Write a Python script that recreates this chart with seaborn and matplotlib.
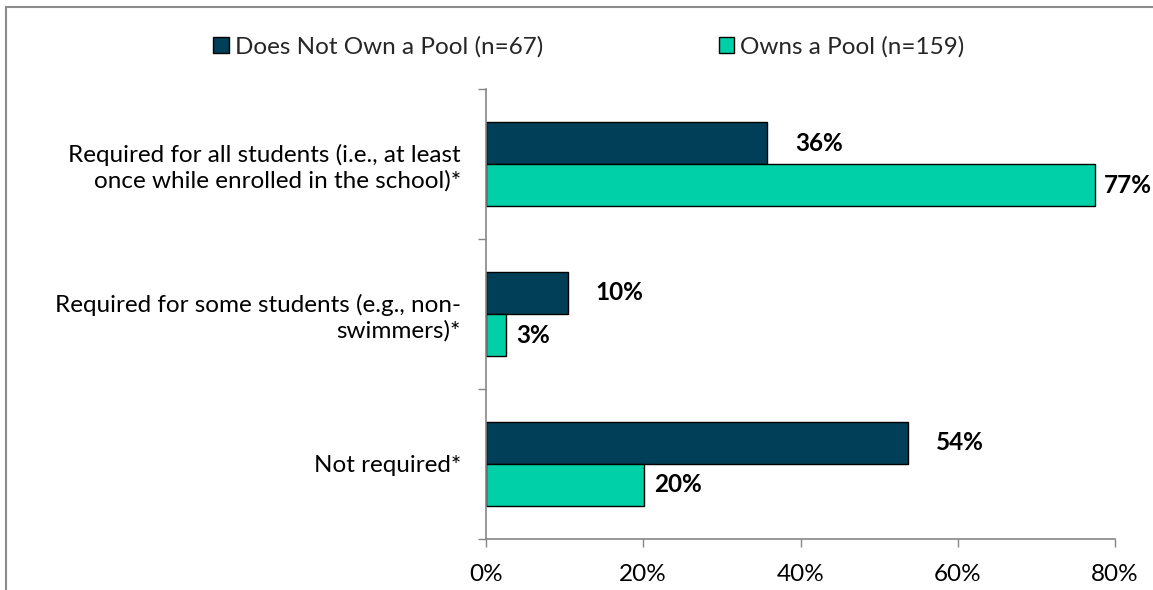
import matplotlib
matplotlib.use("Agg")
import matplotlib.pyplot as plt
from matplotlib.patches import Rectangle
from matplotlib.ticker import FixedLocator, PercentFormatter
import pandas as pd
import seaborn as sns

# Survey responses: share of schools by swim-requirement policy
categories = [
    "Required for all students (i.e., at least\nonce while enrolled in the school)*",
    "Required for some students (e.g., non-\nswimmers)*",
    "Not required*",
]
groups = ["Does Not Own a Pool (n=67)", "Owns a Pool (n=159)"]
no_pool = [35.8, 10.4, 53.7]
owns_pool = [77.4, 2.6, 20.1]
xticks = [0, 20, 40, 60, 80]

colors = ["#003F57", "#00D0A8"]

df = pd.DataFrame({
    "category": categories * 2,
    "group": [groups[0]] * 3 + [groups[1]] * 3,
    "value": no_pool + owns_pool,
})

sns.set_theme(style="white")
plt.rcParams["font.family"] = ["Lato", "DejaVu Sans"]

FS = 17.5
W, H = 1153, 590
fig = plt.figure(figsize=(W / 100, H / 100), dpi=100)
ax = fig.add_axes([486 / W, 1 - 539 / H, (1115 - 486) / W, (539 - 89) / H])

sns.barplot(data=df, x="value", y="category", hue="group", hue_order=groups,
            order=categories, palette=colors, orient="h", width=0.56,
            edgecolor="black", linewidth=1.0, saturation=1, ax=ax, legend=True)

ax.set_xlim(0, 80)
ax.set_ylim(2.5, -0.5)
ax.set_xlabel("")
ax.set_ylabel("")

ax.xaxis.set_major_locator(FixedLocator(xticks))
ax.xaxis.set_major_formatter(PercentFormatter(decimals=0))
ax.tick_params(axis="x", which="major", length=6, width=1, color="#868686",
               direction="out", pad=12, labelsize=FS, labelcolor="black", bottom=True)
ax.tick_params(axis="y", which="major", length=0, pad=18, labelsize=FS, labelcolor="black")
ax.yaxis.set_minor_locator(FixedLocator([-0.5, 0.5, 1.5, 2.5]))
ax.tick_params(axis="y", which="minor", length=6, width=1, color="#868686",
               direction="out", left=True)

for side in ("top", "right"):
    ax.spines[side].set_visible(False)
for side in ("left", "bottom"):
    ax.spines[side].set_color("#868686")
    ax.spines[side].set_linewidth(1.2)

# value labels, rounded to whole percent
paddings = [20, 7]
for cont, vals, pad in zip(ax.containers, [no_pool, owns_pool], paddings):
    ax.bar_label(cont, labels=[f"{v:.0f}%" for v in vals], padding=pad,
                 fontsize=FS, fontweight="bold", color="black")

handles, labels = ax.get_legend_handles_labels()
ax.legend_.remove()
fig.legend(handles, labels, loc="center", bbox_to_anchor=(589 / W, 1 - 47 / H),
           ncol=2, frameon=False, fontsize=FS, handlelength=0.65, handleheight=0.65,
           handletextpad=0.25, columnspacing=7.2)

# outer frame
fig.patches.append(Rectangle((6 / W, -0.1), 1.2, 1.1 - 6.5 / H, transform=fig.transFigure,
                             fill=False, edgecolor="#8C8C8C", linewidth=1.5))

fig.savefig("out.png", dpi=100)
